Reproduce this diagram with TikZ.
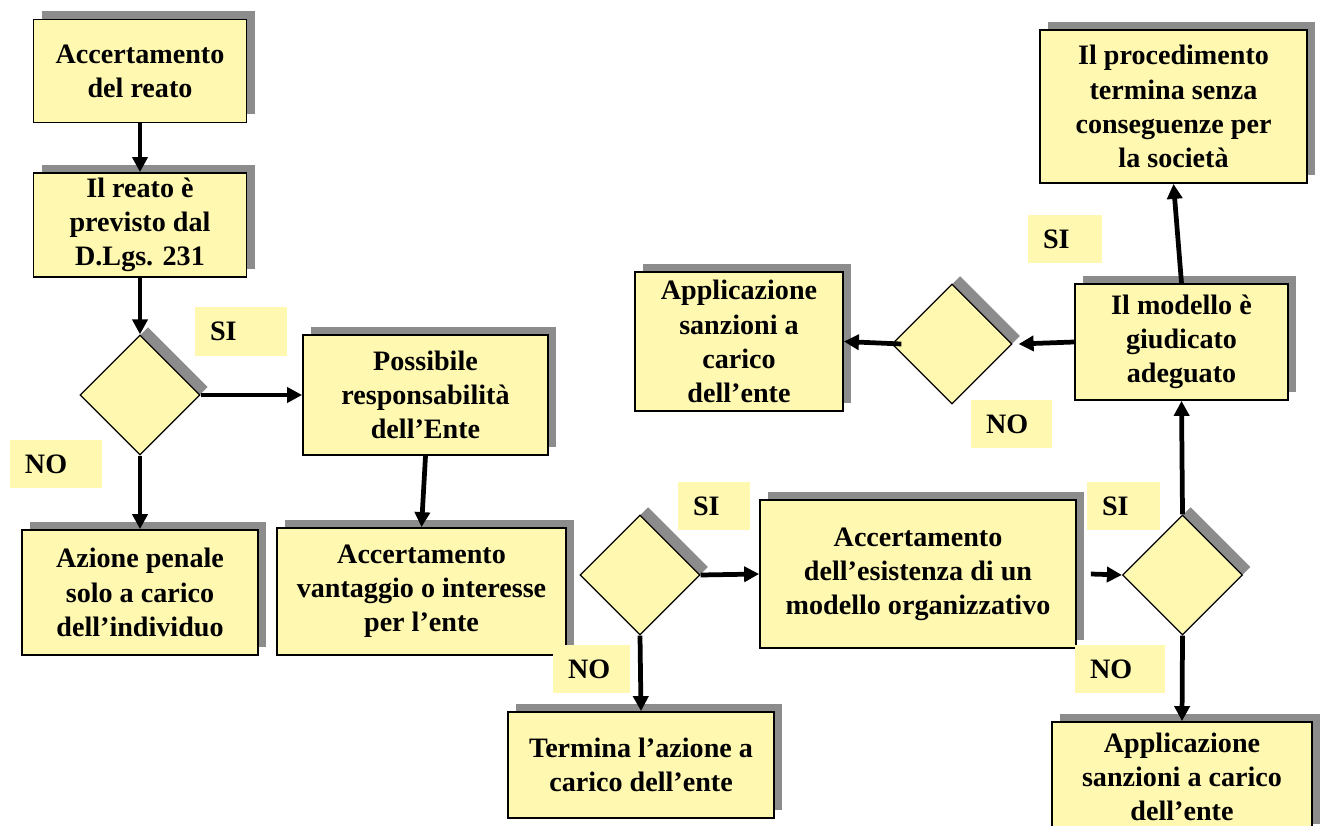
\documentclass[tikz,border=0pt]{standalone}
\usepackage{fontspec}
\setmainfont{Liberation Serif}
\usetikzlibrary{positioning,shapes.geometric,shadows,arrows.meta}

\definecolor{boxyellow}{RGB}{255,248,176}
\definecolor{shadowgray}{RGB}{140,140,140}

\tikzset{
    dshadow/.style={drop shadow={shadow xshift=0.16cm,shadow yshift=0.16cm,fill=shadowgray,opacity=1}},
    stepbox/.style={draw,line width=1pt,fill=boxyellow,dshadow,align=center,inner sep=2pt,
        font=\fontsize{16}{19.4}\selectfont\bfseries},
    choice/.style={diamond,draw,line width=0.7pt,fill=boxyellow,dshadow,inner sep=0pt,
        minimum width=2.4cm,minimum height=2.4cm},
    answer/.style={fill=boxyellow,inner xsep=0.3cm,inner ysep=0pt,minimum height=0.96cm,align=left,
        font=\fontsize{16}{19.4}\selectfont\bfseries},
    flow/.style={line width=2.7pt,-{Triangle[length=0.3cm,width=0.3cm]}}
}

\begin{document}
\begin{tikzpicture}
    \useasboundingbox (0,0) rectangle (26.42,-16.52);

    % Left column
    \node[stepbox,minimum width=4.26cm,minimum height=2.06cm] (accert) at (2.80,-1.42)
        {Accertamento\\del reato};
    \node[stepbox,minimum width=4.26cm,minimum height=2.08cm] (previsto) at (2.80,-4.50)
        {Il reato è\\previsto dal\\D.Lgs. 231};
    \node[choice] (qreato) at (2.80,-7.90) {};
    \node[stepbox,minimum width=4.72cm,minimum height=2.50cm] (azione) at (2.80,-11.85)
        {Azione penale\\solo a carico\\dell’individuo};

    % Second column
    \node[stepbox,minimum width=4.90cm,minimum height=2.40cm] (possibile) at (8.51,-7.90)
        {Possibile\\responsabilità\\dell’Ente};
    \node[stepbox,minimum width=5.78cm,minimum height=2.54cm] (vantaggio) at (8.43,-11.83)
        {Accertamento\\vantaggio o interesse\\per l’ente};

    % Middle
    \node[choice] (qvantaggio) at (12.80,-11.50) {};
    \node[stepbox,minimum width=5.32cm,minimum height=2.12cm] (termina) at (12.82,-15.30)
        {Termina l’azione a\\carico dell’ente};
    \node[stepbox,minimum width=6.32cm,minimum height=2.96cm] (modello) at (18.36,-11.48)
        {Accertamento\\dell’esistenza di un\\modello organizzativo};

    % Right column
    \node[choice] (qmodello) at (23.65,-11.50) {};
    \node[stepbox,minimum width=5.20cm,minimum height=2.20cm] (sanzbasso) at (23.64,-15.54)
        {Applicazione\\sanzioni a carico\\dell’ente};
    \node[stepbox,minimum width=4.26cm,minimum height=2.32cm] (adeguato) at (23.63,-6.84)
        {Il modello è\\giudicato\\adeguato};
    \node[stepbox,minimum width=5.34cm,minimum height=3.06cm] (senza) at (23.47,-2.13)
        {Il procedimento\\termina senza\\conseguenze per\\la società};

    % Top middle
    \node[choice] (qadeguato) at (19.04,-6.88) {};
    \node[stepbox,minimum width=4.16cm,minimum height=2.78cm] (sanzalto) at (14.78,-6.83)
        {Applicazione\\sanzioni a\\carico\\dell’ente};

    % SI / NO labels
    \node[answer,text width=1.24cm] (si1) at (4.82,-6.63) {SI};
    \node[answer,text width=1.24cm] (no1) at (1.12,-9.28) {NO};
    \node[answer,text width=0.84cm] (si2) at (14.28,-10.12) {SI};
    \node[answer,text width=0.94cm] (no2) at (11.83,-13.38) {NO};
    \node[answer,text width=0.86cm] (si3) at (22.47,-10.12) {SI};
    \node[answer,text width=1.20cm] (no3) at (22.40,-13.38) {NO};
    \node[answer,text width=0.88cm] (si4) at (21.30,-4.78) {SI};
    \node[answer,text width=1.02cm] (no4) at (20.23,-8.48) {NO};

    % Connectors
    \coordinate (modelloout) at ([xshift=0.28cm]modello.east);
    \coordinate (adeguatoin) at ([xshift=0.12cm]qadeguato.east);
    \coordinate (adeguatoout) at ([xshift=0.2cm]qadeguato.west);

    \draw[flow] (accert) -- (previsto);
    \draw[flow] (previsto) -- (qreato);
    \draw[flow] (qreato.east) -- (possibile.west);
    \draw[flow] (qreato.south) -- (azione.north);
    \draw[flow] (possibile.south) -- (vantaggio.north);
    \draw[flow] (qvantaggio.east) -- (modello.west);
    \draw[flow] (qvantaggio.south) -- (termina.north);
    \draw[flow] (modelloout) -- (qmodello.west);
    \draw[flow] (qmodello.south) -- (sanzbasso.north);
    \draw[flow] (qmodello.north) -- (adeguato.south);
    \draw[flow] (adeguato.north) -- (senza.south);
    \draw[flow] (adeguato.west) -- (adeguatoin);
    \draw[flow] (adeguatoout) -- (sanzalto.east);
\end{tikzpicture}
\end{document}
